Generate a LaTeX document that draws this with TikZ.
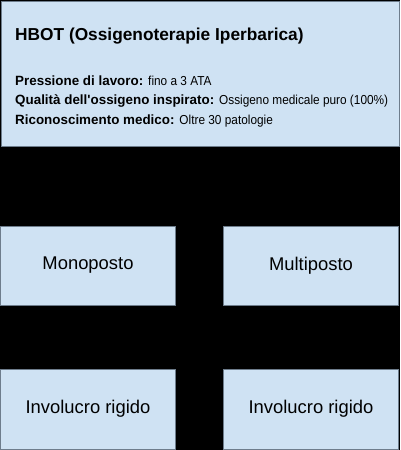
\documentclass[tikz,border=0pt]{standalone}
\usepackage{fontspec}
\setmainfont{Liberation Sans}
\newfontfamily\narrowfont[FakeStretch=0.91]{Liberation Sans}
\usetikzlibrary{positioning, calc}
\definecolor{boxfill}{RGB}{207,226,243}
\definecolor{boxline}{RGB}{110,125,140}
\tikzset{ % box styles
  my box/.style={rectangle,draw=boxline,fill=boxfill,line width=0.8pt,inner sep=0},
  info/.style={my box,minimum width=398,minimum height=145},
  kind/.style={my box,minimum width=175,minimum height=79,font=\fontsize{18.4}{21}\selectfont},
  my text/.style={anchor=base west,inner sep=0,font=\fontsize{13.4}{15}\selectfont}
}

\begin{document}
\begin{tikzpicture}[x=1pt,y=-1pt]
\fill[black] (0,0) rectangle (400,450);
\useasboundingbox (0,0) rectangle (400,450);

\node[info] (hbot) at (200,73.5) {};
\node[my text,font=\fontsize{17.3}{20}\selectfont\bfseries] (title) at (15,40.7)
  {HBOT (Ossigenoterapie Iperbarica)};

\foreach\i/\k/\v in {1/Pressione di lavoro:/fino a 3 ATA,
                      2/Qualità dell\textquotesingle ossigeno inspirato:/Ossigeno medicale puro (100\%),
                      3/Riconoscimento medico:/Oltre 30 patologie}
  \node[my text] (line\i) at (15,65.5+19.5*\i) {\textbf{\k} {\narrowfont\fontsize{13}{15}\selectfont\v}};

\node[kind] (mono)   at (88,265.5)  {Monoposto};
\node[kind] (multi)  at (311,265.5) {Multiposto};
\node[kind,minimum height=80] (rigid1) at (88,409)  {Involucro rigido};
\node[kind,minimum height=80] (rigid2) at (311,409) {Involucro rigido};
\end{tikzpicture}
\end{document}
